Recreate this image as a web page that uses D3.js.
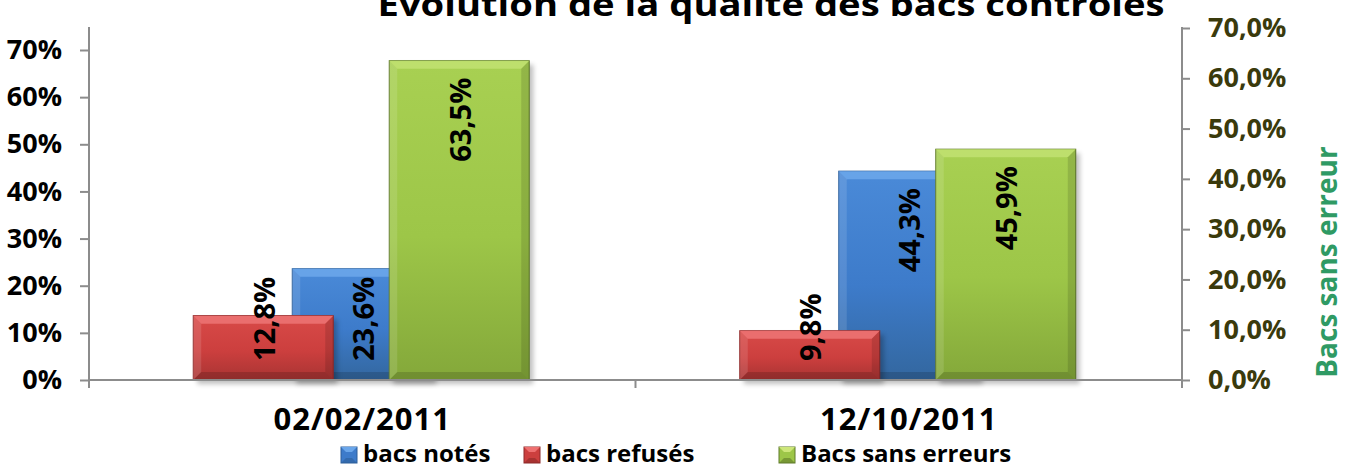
<!DOCTYPE html>
<html>
<head>
<meta charset="utf-8">
<script src="https://cdn.jsdelivr.net/npm/d3@7"></script>
<style>
  body { margin: 0; background: #fff; }
  text { font-family: "Open Sans", sans-serif; font-weight: bold; }
</style>
</head>
<body>
<div id="chart"></div>
<script>
// data
var dates = ["02/02/2011", "12/10/2011"];
var bacsNotes = [23.6, 44.3];
var bacsRefuses = [12.8, 9.8];
var bacsSansErreurs = [63.5, 45.9];
var leftTicks = [0, 10, 20, 30, 40, 50, 60, 70];
var rightTicks = [0, 10, 20, 30, 40, 50, 60, 70];
var seriesNames = ["bacs notés", "bacs refusés", "Bacs sans erreurs"];

var width = 1354, height = 466;
var left = 89, right = 1182, base = 380;

var svg = d3.select("#chart").append("svg")
  .attr("width", width).attr("height", height);

var defs = svg.append("defs");
function grad(id, c1, c2, c3) {
  var g = defs.append("linearGradient").attr("id", id)
    .attr("x1", 0).attr("y1", 0).attr("x2", 0).attr("y2", 1);
  g.append("stop").attr("offset", "0%").attr("stop-color", c1);
  g.append("stop").attr("offset", "55%").attr("stop-color", c2);
  g.append("stop").attr("offset", "100%").attr("stop-color", c3);
}
grad("gBlue", "#4a8ad8", "#3d7bca", "#33679f");
grad("gRed", "#d84a48", "#cc3f3e", "#a83433");
grad("gGreen", "#a8d052", "#9dc648", "#84a83a");
defs.append("filter").attr("id", "shadow").attr("x", "-10%").attr("y", "-10%")
  .attr("width", "120%").attr("height", "130%")
  .append("feGaussianBlur").attr("stdDeviation", 2.5);

var x = d3.scaleBand().domain(dates).range([left, right]).padding(0);
var yL = d3.scaleLinear().domain([0, 70]).range([base, 50]);
var yR = d3.scaleLinear().domain([0, 70]).range([base, 28]);

// title (clipped at the top in the original)
svg.append("text").attr("x", 771).attr("y", 16)
  .attr("text-anchor", "middle").attr("font-size", 33)
  .attr("fill", "#000")
  .attr("textLength", 787).attr("lengthAdjust", "spacingAndGlyphs")
  .text("Evolution de la qualité des bacs contrôlés");

// axes
var axL = svg.append("g").attr("transform", "translate(" + left + ",0)")
  .call(d3.axisLeft(yL).tickValues(leftTicks).tickSize(9).tickPadding(18)
    .tickFormat(function(d) { return d + "%"; }));
axL.select(".domain").remove();
axL.selectAll(".tick line").attr("stroke", "#8c8c8c").attr("stroke-width", 2);
axL.selectAll(".tick text").attr("font-size", 27).attr("fill", "#000")
  .attr("font-family", "Open Sans").attr("font-weight", "bold");

var axR = svg.append("g").attr("transform", "translate(" + right + ",0)")
  .call(d3.axisRight(yR).tickValues(rightTicks).tickSize(8).tickPadding(18)
    .tickFormat(function(d) { return d3.format(".1f")(d).replace(".", ",") + "%"; }));
axR.select(".domain").remove();
axR.selectAll(".tick line").attr("stroke", "#8c8c8c").attr("stroke-width", 2);
axR.selectAll(".tick text").attr("font-size", 27).attr("fill", "#3a3a0c")
  .attr("font-family", "Open Sans").attr("font-weight", "bold");

svg.append("line").attr("x1", left).attr("x2", left).attr("y1", 27).attr("y2", base + 8)
  .attr("stroke", "#8c8c8c").attr("stroke-width", 2);
svg.append("line").attr("x1", right).attr("x2", right).attr("y1", 27).attr("y2", base + 8)
  .attr("stroke", "#8c8c8c").attr("stroke-width", 2);

// bars
var barW = 140;
var series = [
  { name: seriesNames[0], vals: bacsNotes, y: yL, off: 0, fill: "url(#gBlue)", top: "#6aa6ea", edge: "#2d5f9a" },
  { name: seriesNames[1], vals: bacsRefuses, y: yR, off: -99, fill: "url(#gRed)", top: "#ec7272", edge: "#8e2a2a" },
  { name: seriesNames[2], vals: bacsSansErreurs, y: yR, off: 97, fill: "url(#gGreen)", top: "#c0e070", edge: "#5f7a2a" }
];

var bars = svg.append("g");
series.forEach(function(s) {
  var g = bars.append("g");
  dates.forEach(function(d, i) {
    var cx = x(d) + x.bandwidth() / 2 + s.off;
    var x0 = cx - barW / 2, y0 = s.y(s.vals[i]), h = base - y0;
    g.append("rect").attr("x", x0 + 4).attr("y", y0 + 4).attr("width", barW).attr("height", h)
      .attr("fill", "#000").attr("opacity", 0.25).attr("filter", "url(#shadow)");
    g.append("rect").attr("x", x0).attr("y", y0).attr("width", barW).attr("height", h)
      .attr("fill", s.fill).attr("stroke", s.edge).attr("stroke-width", 1);
    var b = 8;
    g.append("path")
      .attr("d", "M" + x0 + "," + y0 + "h" + barW + "l" + (-b) + "," + b + "h" + (-(barW - 2 * b)) + "z")
      .attr("fill", s.top).attr("opacity", 0.9);
    g.append("path")
      .attr("d", "M" + x0 + "," + y0 + "l" + b + "," + b + "v" + (h - 2 * b) + "l" + (-b) + "," + b + "z")
      .attr("fill", "#fff").attr("opacity", 0.12);
    g.append("path")
      .attr("d", "M" + (x0 + barW) + "," + y0 + "l" + (-b) + "," + b + "v" + (h - 2 * b) + "l" + b + "," + b + "z")
      .attr("fill", "#000").attr("opacity", 0.12);
    g.append("path")
      .attr("d", "M" + x0 + "," + base + "l" + b + "," + (-b) + "h" + (barW - 2 * b) + "l" + b + "," + b + "z")
      .attr("fill", "#000").attr("opacity", 0.15);
  });
});

// baseline and middle category tick
svg.append("line").attr("x1", left).attr("x2", right).attr("y1", base).attr("y2", base)
  .attr("stroke", "#8c8c8c").attr("stroke-width", 2);
svg.append("line").attr("x1", x(dates[1])).attr("x2", x(dates[1])).attr("y1", base).attr("y2", base + 8)
  .attr("stroke", "#8c8c8c").attr("stroke-width", 2);

// value labels, rotated
series.forEach(function(s) {
  dates.forEach(function(d, i) {
    var cx = x(d) + x.bandwidth() / 2 + s.off;
    var t = svg.append("text").attr("font-size", 29).attr("fill", "#000")
      .attr("text-anchor", "end").attr("dominant-baseline", "central")
      .text(d3.format(".1f")(s.vals[i]).replace(".", ",") + "%");
    var len = t.node().getComputedTextLength();
    var top = Math.min(s.y(s.vals[i]) + 17, 361 - len);
    t.attr("transform", "translate(" + cx + "," + top + ") rotate(-90)");
  });
});

// category labels
svg.append("g").selectAll("text").data(dates).join("text")
  .attr("x", function(d) { return x(d) + x.bandwidth() / 2; })
  .attr("y", 430).attr("text-anchor", "middle").attr("font-size", 31)
  .attr("letter-spacing", 1)
  .attr("fill", "#000").text(function(d) { return d; });

// right axis title
svg.append("text").attr("transform", "translate(1337,262) rotate(-90)")
  .attr("text-anchor", "middle").attr("font-size", 28).attr("font-weight", 600)
  .attr("fill", "#2f9a64").text("Bacs sans erreur");

// legend
var legX = [341, 524, 779];
var legColors = [["#6aa6ea", "#3d7bca", "#2d5f9a"], ["#ee7070", "#cc3f3e", "#8e2a2a"], ["#cde67a", "#9dc648", "#5f7a2a"]];
var leg = svg.append("g");
seriesNames.forEach(function(n, i) {
  var lg = leg.append("g").attr("transform", "translate(" + legX[i] + ",447)");
  lg.append("rect").attr("width", 16).attr("height", 16).attr("fill", legColors[i][1])
    .attr("stroke", legColors[i][2]).attr("stroke-width", 1);
  lg.append("path").attr("d", "M0,0h16l-5,5h-6z").attr("fill", legColors[i][0]);
  lg.append("path").attr("d", "M0,16h16l-5,-5h-6z").attr("fill", legColors[i][2]).attr("opacity", 0.6);
  lg.append("text").attr("x", 22).attr("y", 15).attr("font-size", 24)
    .attr("fill", "#000").text(n);
});
</script>
</body>
</html>
